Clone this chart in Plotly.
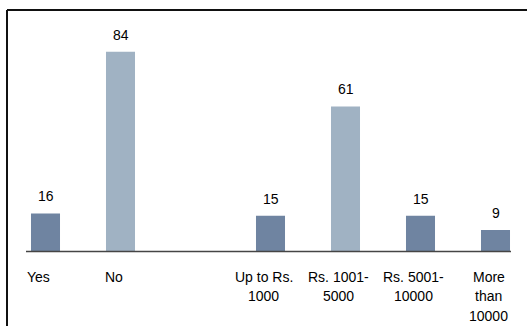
import plotly.graph_objects as go

# Survey responses: awareness (Yes/No) and monthly spending bands
categories = ["Yes", "No", " ", "Up to Rs. 1000", "Rs. 1001-5000", "Rs. 5001-10000", "More than 10000"]
tick_labels = ["Yes", "No", "", "Up to Rs.<br>1000", "Rs. 1001-<br>5000", "Rs. 5001-<br>10000", "More<br>than<br>10000"]
values = [16, 84, None, 15, 61, 15, 9]

DARK = "#6F84A1"
LIGHT = "#A0B2C3"
bar_colors = [DARK, LIGHT, DARK, DARK, LIGHT, DARK, DARK]

W, H = 527, 326
FONT = "Liberation Sans"

# pixel -> paper helpers for layout placement
def px(x):
    return x / W

def py(y):
    return 1 - y / H

fig = go.Figure(
    go.Bar(
        x=categories,
        y=values,
        marker=dict(color=bar_colors, line=dict(width=0)),
        width=0.387,
        hoverinfo="skip",
    )
)

# value labels above each bar
for cat, val in zip(categories, values):
    if val is None:
        continue
    fig.add_annotation(
        x=cat, y=val, xref="x", yref="y",
        text=str(val), showarrow=False,
        yanchor="middle", yshift=17,
        font=dict(family=FONT, size=14, color="#000000"),
    )

# category labels below the axis, one annotation per line
line_gap = 19.5
first_line_y = 276.5
for cat, lab in zip(categories, tick_labels):
    if not lab:
        continue
    for k, part in enumerate(lab.split("<br>")):
        fig.add_annotation(
            x=cat, xref="x", y=py(first_line_y + k * line_gap), yref="paper",
            text=part, showarrow=False,
            xanchor="center", yanchor="middle", xshift=-7,
            font=dict(family=FONT, size=14, color="#000000"),
        )

baseline = 251.5
ppu = 199.8 / 84  # pixels per unit
ymax = 90
top_px = baseline - ymax * ppu

# frame lines and category axis line
fig.add_shape(type="line", xref="paper", yref="paper",
              x0=px(7), x1=1.01, y0=py(10), y1=py(10),
              line=dict(color="#111111", width=2))
fig.add_shape(type="line", xref="paper", yref="paper",
              x0=px(7), x1=px(7), y0=py(10), y1=-0.01,
              line=dict(color="#111111", width=2))
fig.add_shape(type="line", xref="paper", yref="paper",
              x0=px(26), x1=px(511), y0=py(baseline), y1=py(baseline),
              line=dict(color="#454545", width=1.5))

fig.update_layout(
    width=W, height=H,
    margin=dict(l=0, r=0, t=0, b=0),
    paper_bgcolor="white",
    plot_bgcolor="white",
    showlegend=False,
    xaxis=dict(
        domain=[px(26), px(511)],
        range=[-0.26, 6.2067],
        categoryorder="array", categoryarray=categories,
        showticklabels=False, showgrid=False, zeroline=False,
        showline=False, ticks="",
    ),
    yaxis=dict(
        domain=[py(baseline), py(top_px)],
        range=[0, ymax],
        visible=False, showgrid=False, zeroline=False,
    ),
)

fig.write_html("out.html")
